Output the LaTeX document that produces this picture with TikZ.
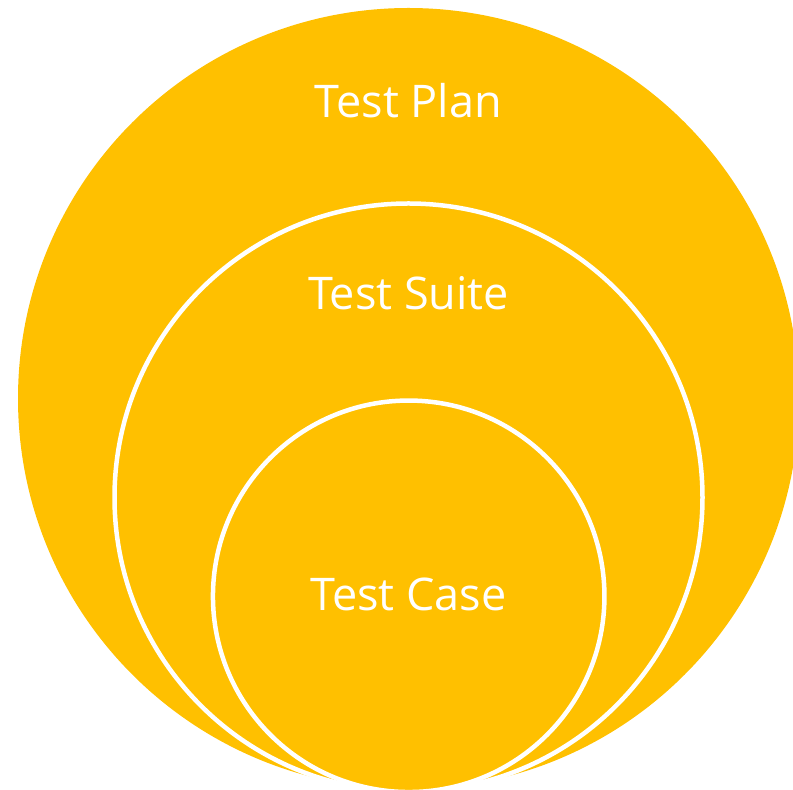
\documentclass[tikz,border=0pt]{standalone}
\usepackage{fontspec}
\setmainfont{Open Sans}
\definecolor{gold}{HTML}{FFC000}
\begin{document}
\begin{tikzpicture}[x=1pt,y=1pt,
  ring/.style={circle,fill=gold,draw=white,line width=4.5pt,inner sep=0pt},
  lbl/.style={text=white,font=\fontsize{45}{50}\selectfont,anchor=base,inner sep=0pt}]
\useasboundingbox (0,0) rectangle (793,790);
\clip (0,0) rectangle (793,790);
\node[circle,fill=gold,inner sep=0pt,minimum size=781pt] (plan) at (408.5,391.5) {};
\node[ring,minimum size=588pt] (suite) at (408.5,292.5) {};
\node[ring,minimum size=391.5pt] (case) at (408.7,193.7) {};
\node[lbl] (tplan) at (408.5,672) {Test Plan};
\node[lbl] (tsuite) at (408.5,480) {Test Suite};
\node[lbl] (tcase) at (408.5,179) {Test Case};
\end{tikzpicture}
\end{document}
